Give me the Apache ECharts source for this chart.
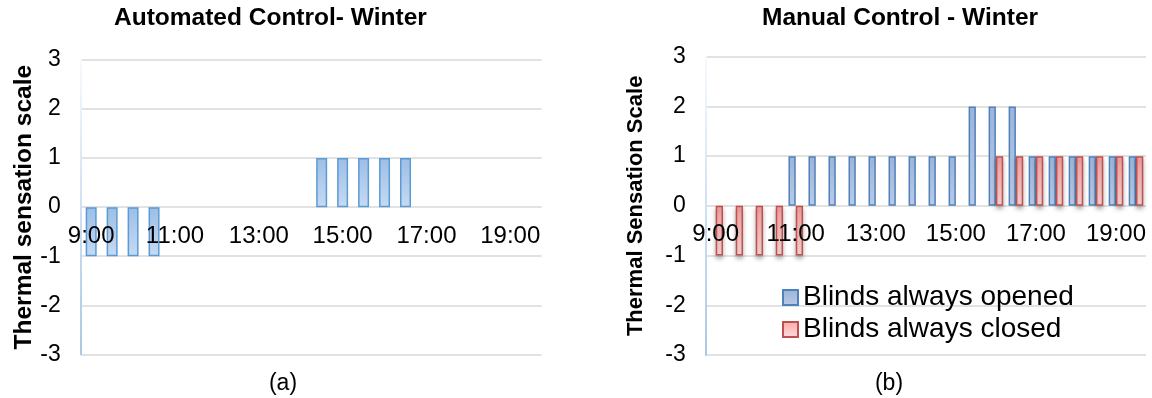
<!DOCTYPE html>
<html>
<head>
<meta charset="utf-8">
<script src="https://cdn.jsdelivr.net/npm/echarts@6/dist/echarts.min.js"></script>
<style>
  html, body { margin: 0; padding: 0; background: #ffffff; }
  #chart { width: 1152px; height: 398px; }
</style>
</head>
<body>
<div id="chart"></div>
<script>
// Half-hourly time slots, 9:00 – 19:30
const times = ['9:00', '9:30', '10:00', '10:30', '11:00', '11:30', '12:00', '12:30',
  '13:00', '13:30', '14:00', '14:30', '15:00', '15:30', '16:00', '16:30',
  '17:00', '17:30', '18:00', '18:30', '19:00', '19:30'];

// Thermal sensation votes, automated blind control (winter)
const automated = [-1, -1, -1, -1, 0, 0, 0, 0, 0, 0, 0, 1, 1, 1, 1, 1, 0, 0, 0, 0, 0, 0];

// Thermal sensation votes, manual control (winter)
const blindsOpened = [0, 0, 0, 0, 1, 1, 1, 1, 1, 1, 1, 1, 1, 2, 2, 2, 1, 1, 1, 1, 1, 1];
const blindsClosed = [-1, -1, -1, -1, -1, 0, 0, 0, 0, 0, 0, 0, 0, 0, 1, 1, 1, 1, 1, 1, 1, 1];

// Thermal sensation scale range
const scaleMin = -3;
const scaleMax = 3;

const FONT = "'Liberation Sans', Arial, sans-serif";

// plot areas of the two panels
const gridA = { left: 80.7, top: 60, width: 461, height: 294.3 };
const gridB = { left: 705.7, top: 56.7, width: 440.3, height: 298.3 };

// neutral votes (0) get no outline so they stay invisible on the zero line
const toBars = arr => arr.map(v => v === 0
  ? { value: v, itemStyle: { borderWidth: 0, shadowBlur: 0, shadowOffsetY: 0 } }
  : v);

const grad = (c0, c1) => new echarts.graphic.LinearGradient(0, 0, 0, 1, [
  { offset: 0, color: c0 }, { offset: 1, color: c1 }
]);

const axisLineGrad = grad('#f7fafd', '#a9c7e6');

function yAxisFor(gridIndex, name, nameSize, nameGap) {
  return {
    type: 'value', gridIndex, min: scaleMin, max: scaleMax, interval: 1,
    name, nameLocation: 'middle', nameRotate: 90, nameGap,
    nameTextStyle: { fontFamily: FONT, fontSize: nameSize, fontWeight: 'bold', color: '#000' },
    axisLine: { show: true, lineStyle: { color: axisLineGrad, width: 2 } },
    axisTick: { show: false },
    axisLabel: { fontFamily: FONT, fontSize: 23, color: '#000', margin: 20 },
    splitLine: { lineStyle: { color: '#d9d9d9', width: 1.5 } }
  };
}

// category axis raised onto the neutral (0) line, which is mid-height of the symmetric scale
function xAxisFor(gridIndex, grid) {
  return {
    type: 'category', gridIndex, data: times, z: 5,
    position: 'bottom',
    offset: -grid.height * (0 - scaleMin) / (scaleMax - scaleMin),
    axisLine: { show: false, onZero: false },
    axisTick: { show: false },
    axisLabel: { interval: 3, fontFamily: FONT, fontSize: 24, color: '#000', margin: 17 },
    splitLine: { show: false }
  };
}

const chart = echarts.init(document.getElementById('chart'), null, { renderer: 'canvas' });

chart.setOption({
  animation: false,
  backgroundColor: '#ffffff',
  grid: [gridA, gridB],
  xAxis: [xAxisFor(0, gridA), xAxisFor(1, gridB)],
  yAxis: [
    yAxisFor(0, 'Thermal sensation scale', 24.5, 43),
    yAxisFor(1, 'Thermal Sensation Scale', 22, 59)
  ],
  legend: {
    data: ['Blinds always opened', 'Blinds always closed'],
    orient: 'vertical', left: 782, top: 283, padding: 0,
    itemWidth: 15, itemHeight: 15, itemGap: 3,
    icon: 'rect',
    textStyle: { fontFamily: FONT, fontSize: 28, lineHeight: 29, color: '#000' }
  },
  series: [
    {
      name: 'Automated control', type: 'bar', xAxisIndex: 0, yAxisIndex: 0,
      data: toBars(automated), barWidth: 11,
      itemStyle: { color: grad('#9dbee6', '#c6daf2'), borderColor: '#5b9bd5', borderWidth: 1.5 }
    },
    {
      name: 'Blinds always opened', type: 'bar', xAxisIndex: 1, yAxisIndex: 1,
      data: toBars(blindsOpened), barWidth: 7.3, barGap: '0%',
      itemStyle: { color: grad('#9db4d8', '#b9cae5'), borderColor: '#4f81bd', borderWidth: 1.5 }
    },
    {
      name: 'Blinds always closed', type: 'bar', xAxisIndex: 1, yAxisIndex: 1,
      data: toBars(blindsClosed), barWidth: 7.3, barGap: '0%',
      itemStyle: {
        color: grad('#ffa8a8', '#ffdede'), borderColor: '#c0504d', borderWidth: 1.5,
        shadowColor: 'rgba(0,0,0,0.28)', shadowBlur: 4, shadowOffsetY: 3
      }
    }
  ],
  graphic: [
    { type: 'text', x: 114, y: 18, style: { text: 'Automated Control- Winter', fontFamily: FONT, fontSize: 24.5, fontWeight: 'bold', fill: '#000', align: 'left', verticalAlign: 'middle' } },
    { type: 'text', x: 762, y: 18, style: { text: 'Manual Control - Winter', fontFamily: FONT, fontSize: 24.5, fontWeight: 'bold', fill: '#000', align: 'left', verticalAlign: 'middle' } },
    { type: 'text', x: 283, y: 384, style: { text: '(a)', fontFamily: FONT, fontSize: 23, fill: '#000', align: 'center', verticalAlign: 'middle' } },
    { type: 'text', x: 889, y: 384, style: { text: '(b)', fontFamily: FONT, fontSize: 23, fill: '#000', align: 'center', verticalAlign: 'middle' } }
  ]
});
</script>
</body>
</html>
